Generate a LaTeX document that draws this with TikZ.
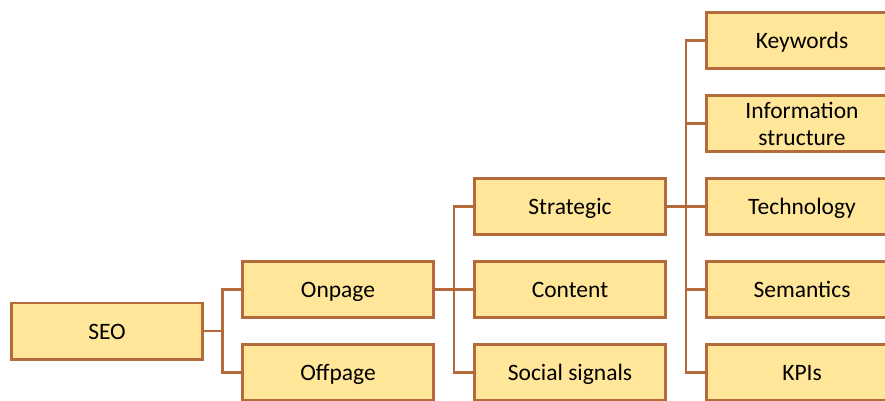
\documentclass[tikz,border=0pt]{standalone}
\usepackage{fontspec}
\setmainfont{Carlito}
\usepackage{tikz}
\usetikzlibrary{positioning,calc}

\definecolor{seofill}{RGB}{255,230,153}
\definecolor{seoline}{RGB}{181,106,60}

\begin{document}
\begin{tikzpicture}
    [seobox/.style={rectangle, draw=seoline, fill=seofill, line width=2.6pt,
        minimum width=191.4pt, minimum height=56.4pt, align=center,
        text height=17pt, text depth=1pt,
        font=\fontsize{23.5}{27}\selectfont},
     link/.style={draw=seoline, line width=2.6pt}]
    \useasboundingbox (0,0) rectangle (885pt,-401pt);

    % level 0 and 1
    \node[seobox] (seo) at (107pt,-331pt) {SEO};
    \node[seobox, right=37pt of seo, yshift=41.5pt] (onpage) {Onpage};
    \node[seobox, below=24pt of onpage] (offpage) {Offpage};
    % level 2
    \node[seobox, right=38pt of onpage] (content) {Content};
    \node[seobox, above=24pt of content] (strategic) {Strategic};
    \node[seobox, below=24pt of content] (social) {Social signals};
    % level 3 (runs past the right edge)
    \node[seobox, right=38pt of content, text width=180pt] (semantics) {Semantics};
    \node[seobox, above=24pt of semantics, text width=180pt] (technology) {Technology};
    \node[seobox, above=24pt of technology, text width=180pt, text height={}, text depth={}] (infostruct) {Information\\structure};
    \node[seobox, above=24pt of infostruct, text width=180pt] (keywords) {Keywords};
    \node[seobox, below=24pt of semantics, text width=180pt] (kpis) {KPIs};

    % connectors
    \coordinate (forkA) at ($(seo.east)+(18.5pt,0)$);
    \coordinate (forkB) at ($(onpage.east)+(19pt,0)$);
    \coordinate (forkC) at ($(strategic.east)+(19pt,0)$);
    \draw[link] (seo.east) -- (forkA);
    \foreach \n in {onpage,offpage}
        \draw[link] (forkA) |- (\n.west);
    \draw[link] (onpage.east) -- (forkB);
    \foreach \n in {strategic,content,social}
        \draw[link] (forkB) |- (\n.west);
    \draw[link] (strategic.east) -- (forkC);
    \foreach \n in {keywords,infostruct,technology,semantics,kpis}
        \draw[link] (forkC) |- (\n.west);
\end{tikzpicture}
\end{document}
